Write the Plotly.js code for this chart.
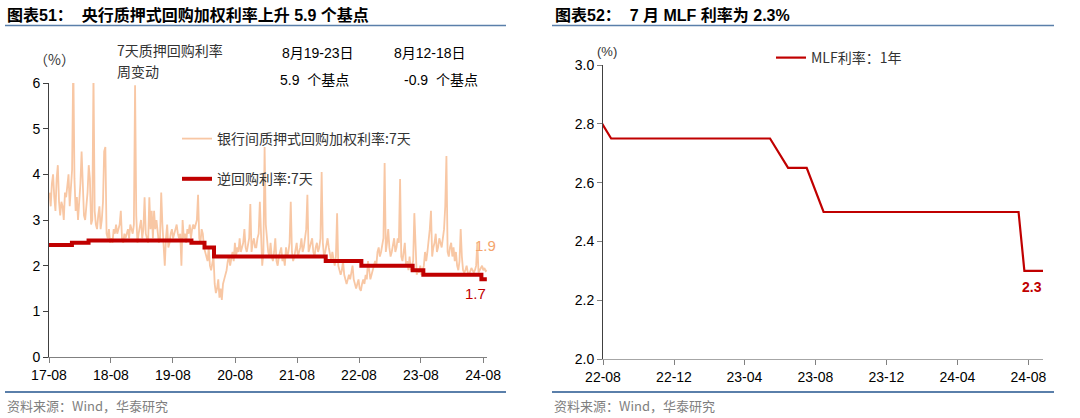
<!DOCTYPE html>
<html><head><meta charset="utf-8">
<script src="https://cdn.plot.ly/plotly-3.0.1.min.js"></script>
<style>html,body{margin:0;padding:0;background:#fff}#chart{width:1080px;height:418px}</style>
</head><body><div id="chart"></div>
<script>
// ---------- Left chart: 7-day interbank pledged repo weighted rate (weekly readings) ----------
const repoStart = '2017-08-04';
const repo2017 = [3.6,3.3,3.8,4.0, 3.5,3.2,3.9,4.2,3.4, 3.1,3.4,3.3,3.0, 3.6,3.5,3.8,4.0, 3.3,3.7,4.1,6.5,3.9];
const repo2018 = [3.2,3.5,3.0,3.4, 3.8,4.5,3.6,3.1, 3.0,3.3,3.6,4.2,3.9, 2.9,3.0,6.2,3.2, 2.9,2.8,3.1,3.3,
                  2.8,3.0,3.4,4.5,4.6, 2.7,2.6,2.8,2.5, 2.6,2.5,2.8,2.7,2.9, 2.7,2.8,2.9,3.2, 2.6,2.5,2.7,2.6,
                  2.7,2.8,2.6,2.9,2.8, 2.7,2.9,5.95,3.1];
const repo2019 = [2.5,2.7,2.9,3.0, 2.6,2.8,3.5,2.7, 2.6,2.5,3.5,2.8,3.2, 2.6,3.2,2.8,3.0, 2.7,2.5,2.6,3.6,2.9,
                  2.3,2.0,2.6,2.9, 2.4,2.5,2.7,2.8, 2.6,2.7,2.8,2.9,2.7, 2.6,2.7,2.0,3.0, 2.6,2.7,2.5,2.8,
                  2.7,2.9,2.6,2.8,2.9, 2.8,2.9,3.0,3.55];
const repo2020 = [2.6,2.5,2.8,2.7,2.4, 2.3,2.2,2.1,2.4, 2.0,1.9,2.1,2.2, 1.6,1.4,1.5,1.7, 1.3,1.5,1.25,1.6,1.7,
                  1.8,1.9,2.1,2.2, 2.0,2.2,2.3,2.1,2.5, 2.2,2.4,2.3,2.6, 2.3,2.4,2.5,2.8, 2.4,2.3,2.5,2.6,3.35,
                  2.3,2.5,2.6,2.4, 2.4,2.6,2.7,3.4];
const repo2021 = [2.5,2.0,2.3,4.6,2.9, 2.6,2.3,2.2,2.5, 2.2,2.1,2.3,2.6, 2.1,2.0,2.2,2.3,2.4, 2.1,2.2,2.0,2.4,
                  2.2,2.3,2.5,3.4, 2.3,2.1,2.2,2.4,2.5, 2.2,2.3,2.4,2.6, 2.3,2.4,2.6,2.8, 3.55,2.3,2.4,2.5,2.6,
                  2.3,2.2,2.4,2.5, 2.3,2.4,2.6,4.05,2.5];
const repo2022 = [2.2,2.3,2.5,2.6, 2.4,2.2,2.1,2.3, 2.1,2.0,2.2,3.15, 2.0,1.9,1.8,1.9,2.1, 1.8,1.7,1.6,1.7,
                  1.8,1.7,1.9,2.0, 1.7,1.6,1.5,1.6,1.7, 1.5,1.45,1.6,1.7, 1.6,1.8,1.7,2.1,1.9, 1.7,1.8,1.9,2.0,
                  2.1,2.0,2.3,2.4, 2.2,2.3,2.5,2.6,4.25];
const repo2023 = [2.3,2.5,2.8,2.4, 2.2,2.3,2.5,2.6, 2.3,2.4,2.6,2.5,3.9, 2.2,2.1,2.3,2.5, 2.0,2.1,1.9,2.2,
                  1.9,2.0,2.1,3.15,2.2, 1.8,1.9,1.85,2.0, 1.8,1.9,2.0,2.3, 2.1,2.3,2.5,2.8,3.2, 2.2,2.4,2.5,2.7,
                  2.3,2.4,2.6,2.5, 2.4,2.6,2.8,3.3,4.4];
const repo2024 = [2.3,2.2,2.4,2.5, 2.2,2.4,2.1,2.3, 2.0,1.9,2.1,2.8,2.2, 1.9,1.85,1.9,2.0, 1.85,1.8,1.9,1.95,1.9,
                  1.85,1.9,2.0,2.5, 1.85,1.9,1.95,2.0, 1.9,1.95,1.88,1.9];
const repoValues = [].concat(repo2017, repo2018, repo2019, repo2020, repo2021, repo2022, repo2023, repo2024);

// 7-day reverse repo rate (policy change dates)
const rrDates  = ['2017-08-01','2017-12-14','2018-03-22','2019-11-18','2020-02-03','2020-03-30','2022-01-17','2022-08-15','2023-06-13','2023-08-15','2024-07-22','2024-08-23'];
const rrValues = [2.45,2.50,2.55,2.50,2.40,2.20,2.10,2.00,1.90,1.80,1.70,1.70];

// ---------- Right chart: MLF 1Y rate ----------
const mlfDates  = ['2022-07-15','2022-08-15','2022-09-15','2022-10-17','2022-11-15','2022-12-15','2023-01-17','2023-02-15','2023-03-15','2023-04-17','2023-05-15','2023-06-15','2023-07-17','2023-08-15','2023-09-15','2023-10-16','2023-11-15','2023-12-15','2024-01-15','2024-02-18','2024-03-15','2024-04-17','2024-05-17','2024-06-17','2024-07-15','2024-07-25','2024-08-26'];
const mlfValues = [2.85,2.75,2.75,2.75,2.75,2.75,2.75,2.75,2.75,2.75,2.75,2.65,2.65,2.50,2.50,2.50,2.50,2.50,2.50,2.50,2.50,2.50,2.50,2.50,2.50,2.30,2.30];

const leftTicks = ['17-08','18-08','19-08','20-08','21-08','22-08','23-08','24-08'];
const rightTicks = ['22-08','22-12','23-04','23-08','23-12','24-04','24-08'];

function weeklyDates(start, n){
  const d0 = new Date(start + 'T00:00:00Z'); const out = [];
  for (let i = 0; i < n; i++) { out.push(new Date(d0.getTime() + i*7*86400000).toISOString().slice(0,10)); }
  return out;
}
const repoDates = weeklyDates(repoStart, repoValues.length);

const W = 1080, H = 418;
const X = p => p / W, Y = p => 1 - p / H;
const FONT = '"Liberation Sans", Arial, "Noto Sans CJK SC", sans-serif';
const CJK = '"Noto Sans CJK SC", "Liberation Sans", sans-serif';
const RED = '#C00000', PEACH = '#F8C7A4';

const traces = [
  {x: repoDates, y: repoValues, type: 'scatter', mode: 'lines', name: '银行间质押式回购加权利率:7天',
   line: {color: PEACH, width: 1.8}, xaxis: 'x', yaxis: 'y', legendgroup: 'a', legend: 'legend'},
  {x: rrDates, y: rrValues, type: 'scatter', mode: 'lines', name: '逆回购利率:7天',
   line: {color: RED, width: 4, shape: 'hv'}, xaxis: 'x', yaxis: 'y', legendgroup: 'b', legend: 'legend'},
  {x: mlfDates, y: mlfValues, type: 'scatter', mode: 'lines', name: 'MLF利率：1年',
   line: {color: RED, width: 2.2}, xaxis: 'x2', yaxis: 'y2', legend: 'legend2'}
];

const axBase = {showgrid: false, zeroline: false, showline: true, ticks: 'outside', ticklen: 5,
  tickfont: {family: FONT, size: 14, color: '#000'}};

const lastRepoDate = repoDates[repoDates.length-1];
const layout = {
  width: W, height: H, margin: {l: 0, r: 0, t: 0, b: 0},
  paper_bgcolor: '#fff', plot_bgcolor: '#fff', showlegend: true,
  xaxis: Object.assign({}, axBase, {domain: [X(49), X(487)], type: 'date', range: ['2017-08-01','2024-08-24'],
    tickmode: 'array', tickvals: leftTicks.map(t => '20' + t.slice(0,2) + '-' + t.slice(3) + '-01'), ticktext: leftTicks,
    linecolor: '#808080', tickcolor: '#808080', anchor: 'y'}),
  yaxis: Object.assign({}, axBase, {domain: [Y(357), Y(83)], range: [0, 6], dtick: 1, tick0: 0,
    linecolor: '#404040', tickcolor: '#404040', anchor: 'x'}),
  xaxis2: Object.assign({}, axBase, {domain: [X(603), X(1043)], type: 'date', range: ['2022-08-01','2024-08-26'],
    tickmode: 'array', tickvals: rightTicks.map(t => '20' + t.slice(0,2) + '-' + t.slice(3) + '-01'), ticktext: rightTicks,
    linecolor: '#a6a6a6', tickcolor: '#808080', anchor: 'y2'}),
  yaxis2: Object.assign({}, axBase, {domain: [Y(359), Y(65)], range: [2.0, 3.0], dtick: 0.2, tick0: 2.0, tickformat: '.1f',
    linecolor: '#404040', tickcolor: '#808080', anchor: 'x2'}),
  legend: {x: X(177), y: Y(123), xanchor: 'left', yanchor: 'top', bgcolor: 'rgba(0,0,0,0)', traceorder: 'grouped',
    tracegroupgap: 19, font: {family: CJK, size: 14, color: '#333'}},
  legend2: {x: X(771), y: Y(42), xanchor: 'left', yanchor: 'top', bgcolor: 'rgba(0,0,0,0)',
    font: {family: CJK, size: 14, color: '#333'}},
  shapes: [
    {type: 'line', xref: 'paper', yref: 'paper', x0: X(5), x1: X(506), y0: Y(25.5), y1: Y(25.5), line: {color: '#5A7FAA', width: 1.5}},
    {type: 'line', xref: 'paper', yref: 'paper', x0: X(5), x1: X(506), y0: Y(392), y1: Y(392), line: {color: '#5A7FAA', width: 2}},
    {type: 'line', xref: 'paper', yref: 'paper', x0: X(552), x1: X(1054), y0: Y(25.5), y1: Y(25.5), line: {color: '#5A7FAA', width: 1.5}},
    {type: 'line', xref: 'paper', yref: 'paper', x0: X(552), x1: X(1054), y0: Y(392), y1: Y(392), line: {color: '#5A7FAA', width: 2}}
  ],
  annotations: [
    {xref: 'paper', yref: 'paper', x: X(5), y: Y(15), xanchor: 'left', yanchor: 'middle', showarrow: false,
     text: '<b>图表51：  央行质押式回购加权利率上升 5.9 个基点</b>', font: {family: FONT, size: 16, color: '#000'}},
    {xref: 'paper', yref: 'paper', x: X(553), y: Y(15), xanchor: 'left', yanchor: 'middle', showarrow: false,
     text: '<b>图表52：  7 月 MLF 利率为 2.3%</b>', font: {family: FONT, size: 16, color: '#000'}},
    {xref: 'paper', yref: 'paper', x: X(5), y: Y(405), xanchor: 'left', yanchor: 'middle', showarrow: false,
     text: '资料来源：Wind，华泰研究', font: {family: CJK, size: 13, color: '#7f7f7f'}},
    {xref: 'paper', yref: 'paper', x: X(552), y: Y(405), xanchor: 'left', yanchor: 'middle', showarrow: false,
     text: '资料来源：Wind，华泰研究', font: {family: CJK, size: 13, color: '#7f7f7f'}},
    {xref: 'paper', yref: 'paper', x: X(54), y: Y(59), xanchor: 'center', yanchor: 'middle', showarrow: false,
     text: '（%）', font: {family: CJK, size: 14, color: '#333'}},
    {xref: 'paper', yref: 'paper', x: X(115), y: Y(50), xanchor: 'left', yanchor: 'middle', showarrow: false,
     text: '7天质押回购利率', font: {family: CJK, size: 14, color: '#333'}},
    {xref: 'paper', yref: 'paper', x: X(115), y: Y(71), xanchor: 'left', yanchor: 'middle', showarrow: false,
     text: '周变动', font: {family: CJK, size: 14, color: '#333'}},
    {xref: 'paper', yref: 'paper', x: X(280), y: Y(53), xanchor: 'left', yanchor: 'middle', showarrow: false,
     text: '8月19-23日', font: {family: FONT, size: 14, color: '#000'}},
    {xref: 'paper', yref: 'paper', x: X(278), y: Y(80), xanchor: 'left', yanchor: 'middle', showarrow: false,
     text: '5.9  个基点', font: {family: FONT, size: 14, color: '#000'}},
    {xref: 'paper', yref: 'paper', x: X(392), y: Y(53), xanchor: 'left', yanchor: 'middle', showarrow: false,
     text: '8月12-18日', font: {family: FONT, size: 14, color: '#000'}},
    {xref: 'paper', yref: 'paper', x: X(402), y: Y(80), xanchor: 'left', yanchor: 'middle', showarrow: false,
     text: '-0.9  个基点', font: {family: FONT, size: 14, color: '#000'}},
    {xref: 'paper', yref: 'paper', x: X(607), y: Y(52), xanchor: 'center', yanchor: 'middle', showarrow: false,
     text: '(%)', font: {family: FONT, size: 13, color: '#333'}},
    {xref: 'x', yref: 'y', x: lastRepoDate, y: repoValues[repoValues.length-1], xanchor: 'center', yanchor: 'middle',
     showarrow: false, xshift: -1, yshift: 25, text: '1.9', font: {family: FONT, size: 15, color: '#F4A46C'}},
    {xref: 'x', yref: 'y', x: rrDates[rrDates.length-1], y: rrValues[rrValues.length-1], xanchor: 'center', yanchor: 'middle',
     showarrow: false, xshift: -11, yshift: -14, text: '1.7', font: {family: FONT, size: 15, color: RED}},
    {xref: 'x2', yref: 'y2', x: mlfDates[mlfDates.length-1], y: mlfValues[mlfValues.length-1], xanchor: 'center', yanchor: 'middle',
     showarrow: false, xshift: -11, yshift: -16, text: '<b>2.3</b>', font: {family: FONT, size: 14, color: RED}}
  ]
};

Plotly.newPlot('chart', traces, layout, {staticPlot: true, displayModeBar: false});
</script>
</body></html>
